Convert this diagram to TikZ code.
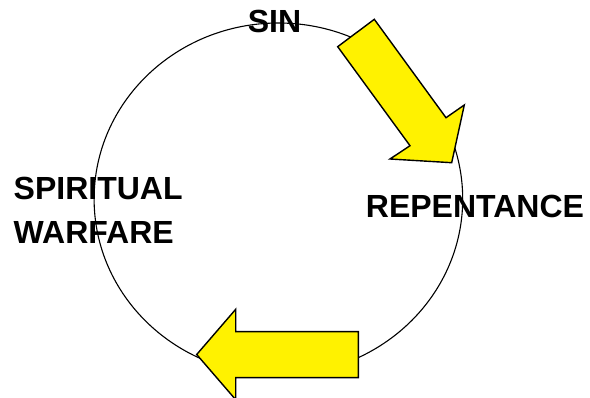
\documentclass[tikz,border=0pt]{standalone}
\usepackage{fontspec}
\setmainfont{Liberation Sans}
\begin{document}
\begin{tikzpicture}[x=1pt,y=-1pt,
  ring/.style={draw=black,line width=1.1pt},
  bigarrow/.style={draw=black,fill=yellow,line width=1.4pt,line join=miter},
  label/.style={inner sep=0pt,font=\bfseries\fontsize{32}{38}\selectfont}]
\useasboundingbox (0,0) rectangle (590,398);
\clip (0,0) rectangle (590,398);
\draw[ring] (278.4,199) ellipse [x radius=184.3, y radius=176];
% arrow SIN -> REPENTANCE
\draw[bigarrow] (337.7,46.7) -- (374.3,19.3) -- (446,117.7) -- (464.3,105)
  -- (451.7,162.7) -- (390,159) -- (410,145.7) -- cycle;
% arrow bottom, pointing left
\draw[bigarrow] (358.3,331.7) -- (235.7,331.7) -- (235.7,309.3) -- (196.7,354.5)
  -- (235.7,399.7) -- (235.7,377.7) -- (358.3,377.7) -- cycle;
\node[label,anchor=base] (sin) at (274.5,32.3) {SIN};
\node[label,anchor=base] (rep) at (475,217.7) {REPENTANCE};
\node[label,anchor=base west] (war1) at (13.5,200) {SPIRITUAL};
\node[label,anchor=base west] (war2) at (13.5,243.3) {WARFARE};
\end{tikzpicture}
\end{document}
